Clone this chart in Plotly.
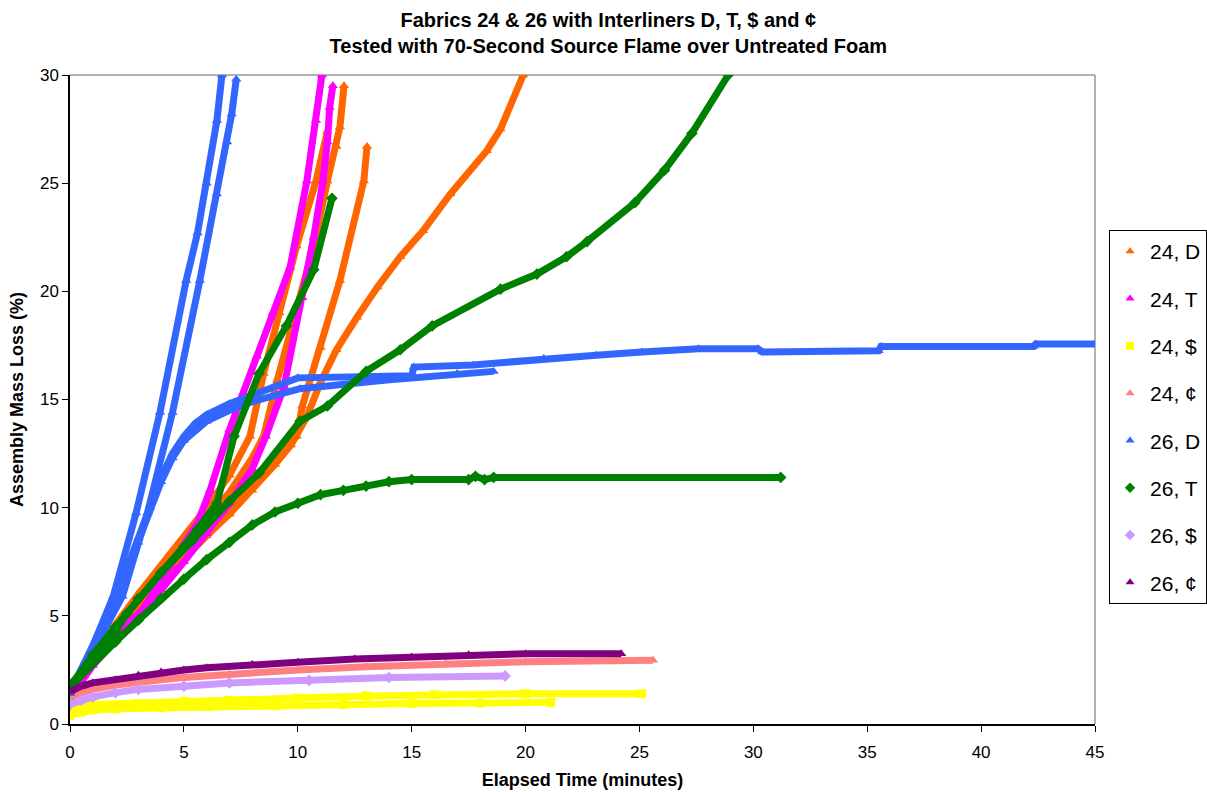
import plotly.graph_objects as go

# ---------------- data: elapsed time (min) vs assembly mass loss (%) ----------------
# Fabric 24, interliner D (four runs)
t_24D_a = [0, 1, 2, 3, 4, 5, 6, 7, 8, 9, 9.7, 10.4, 11, 11.7, 12.6, 13.5, 14.5, 15.5, 16.7, 18.3, 18.9, 19.9]
m_24D_a = [1.6, 3.0, 4.3, 5.5, 6.6, 7.7, 8.7, 9.7, 10.8, 12.0, 12.9, 14.2, 15.8, 17.3, 18.8, 20.2, 21.6, 22.8, 24.5, 26.5, 27.5, 30.0]
t_24D_b = [0, 1, 2, 3, 4, 5, 6, 7, 8, 9, 9.95, 10.2, 11, 11.85, 12.9, 13.04]
m_24D_b = [1.6, 3.0, 4.4, 5.6, 6.8, 7.9, 9.0, 10.1, 11.2, 12.2, 13.3, 14.7, 17.4, 20.5, 25.1, 26.7]
t_24D_c = [0, 1, 2, 3, 4, 5, 6, 7, 8, 8.5, 9.1, 9.8, 10.7, 11.3, 11.7, 11.85, 12.03]
m_24D_c = [1.6, 3.1, 4.5, 5.8, 7.0, 8.2, 9.4, 10.7, 12.3, 13.3, 15.9, 18.7, 22.1, 25.1, 26.7, 27.6, 29.5]
t_24D_d = [0, 1, 2, 3, 4, 5, 6, 7, 7.9, 8.5, 9.2, 9.95, 10.8, 11.3]
m_24D_d = [1.7, 3.2, 4.6, 6.0, 7.3, 8.6, 10.0, 11.5, 13.3, 16.2, 19.0, 22.1, 25.1, 27.4]

# Fabric 24, interliner T (two runs)
t_24T_a = [0, 1, 2, 3.2, 4.4, 5.6, 6.15, 7.0, 7.6, 8.2, 8.9, 9.66, 10.4, 10.8, 11.06]
m_24T_a = [1.3, 2.9, 4.1, 5.3, 7.3, 9.3, 10.8, 13.6, 15.3, 17.0, 19.0, 21.1, 25.1, 27.9, 30.0]
t_24T_b = [0, 1, 2, 3, 4, 5, 6, 7, 8, 8.6, 9.4, 10.2, 10.7, 11.1, 11.3, 11.4, 11.54]
m_24T_b = [1.2, 2.7, 3.9, 5.0, 6.2, 7.5, 8.8, 10.2, 11.8, 13.3, 15.6, 19.7, 22.5, 25.1, 26.9, 28.5, 29.5]

# Fabric 24, interliner $ (two runs)
t_24S_a = [0, 0.5, 1, 3, 5, 7, 10, 13, 16, 20, 25.1]
m_24S_a = [0.6, 0.8, 0.9, 0.95, 1.05, 1.1, 1.2, 1.3, 1.35, 1.4, 1.4]
t_24S_b = [0, 0.5, 1, 2, 4, 6, 9, 12, 15, 18, 21.1]
m_24S_b = [0.4, 0.55, 0.65, 0.7, 0.75, 0.8, 0.85, 0.9, 0.95, 0.97, 1.0]

# Fabric 24, interliner ¢
t_24C = [0, 0.5, 1, 2, 3, 4, 5, 7, 10, 13, 16.5, 20, 25.6]
m_24C = [1.25, 1.45, 1.6, 1.8, 1.95, 2.05, 2.15, 2.3, 2.5, 2.65, 2.78, 2.88, 2.95]

# Fabric 26, interliner D (four runs)
t_26D_a = [0, 1, 1.9, 2.9, 3.95, 5.1, 5.6, 6.0, 6.45, 6.67]
m_26D_a = [1.5, 3.6, 5.9, 9.75, 14.4, 20.5, 22.7, 25.0, 27.9, 30.0]
t_26D_b = [0, 1, 2.3, 3.4, 4.5, 5.7, 6.45, 6.9, 7.1, 7.3]
m_26D_b = [1.4, 3.3, 5.9, 9.75, 14.4, 20.5, 24.5, 26.9, 28.2, 29.8]
t_26D_c = [0, 0.5, 1, 1.5, 2, 2.5, 3, 3.5, 4, 4.5, 5, 5.5, 6, 7, 8, 9, 10, 15, 15.1, 17.7,
           20.8, 23.1, 25.1, 27.6, 30.2, 30.4, 35.5, 35.6, 42.3, 42.4, 45]
m_26D_c = [1.6, 2.5, 3.6, 4.7, 5.9, 7.2, 8.6, 10.0, 11.4, 12.5, 13.3, 13.9, 14.3, 14.8, 15.2, 15.6, 16.0, 16.1, 16.5, 16.6,
           16.9, 17.05, 17.2, 17.35, 17.35, 17.2, 17.25, 17.45, 17.45, 17.57, 17.57]
t_26D_d = [0, 1, 2, 3, 4, 4.5, 5, 6, 7, 8, 9, 10.1, 13.9, 17, 18.6]
m_26D_d = [1.4, 3.4, 5.7, 8.4, 11.2, 12.3, 13.1, 14.0, 14.5, 14.9, 15.2, 15.5, 15.9, 16.2, 16.3]

# Fabric 26, interliner T (three runs)
t_26T_a = [0, 1, 2, 2.5, 4, 5.4, 7, 8.3, 10.1, 11.3, 13, 14.5, 15.9, 18.9, 20.5, 21.8, 22.7, 24.8, 26.1, 27.3, 28.9]
m_26T_a = [1.8, 3.0, 4.3, 5.1, 7.0, 8.5, 10.3, 11.6, 14.0, 14.7, 16.3, 17.3, 18.4, 20.1, 20.8, 21.6, 22.3, 24.1, 25.6, 27.3, 30.0]
t_26T_b = [0, 1, 2, 3, 4, 5, 6, 7, 8, 9, 10, 11, 12, 13, 14, 15, 17.5, 17.8, 18.2, 18.6, 31.2]
m_26T_b = [1.7, 2.8, 3.8, 4.8, 5.8, 6.7, 7.6, 8.4, 9.2, 9.8, 10.2, 10.6, 10.8, 11.0, 11.2, 11.3, 11.3, 11.45, 11.3, 11.4, 11.4]
t_26T_c = [0, 1, 2, 3, 4, 5, 5.6, 6.45, 7.2, 8.3, 9.5, 10.7, 11.5]
m_26T_c = [1.7, 3.2, 4.5, 5.8, 7.0, 8.2, 9.0, 10.2, 13.3, 16.2, 18.4, 21.0, 24.3]

# Fabric 26, interliner $
t_26S = [0, 0.5, 1, 2, 3, 5, 7, 10.5, 14, 19.1]
m_26S = [0.9, 1.1, 1.25, 1.45, 1.6, 1.75, 1.9, 2.02, 2.15, 2.22]

# Fabric 26, interliner ¢
t_26C = [0, 0.5, 1, 2, 3, 4, 5, 6, 8, 10, 12.5, 15, 17.5, 20, 24.2]
m_26C = [1.5, 1.75, 1.9, 2.05, 2.25, 2.4, 2.5, 2.6, 2.75, 2.85, 3.0, 3.1, 3.2, 3.25, 3.25]

series = [
    ("24, D", "#FF6600", "triangle-up", [(t_24D_a, m_24D_a), (t_24D_b, m_24D_b), (t_24D_c, m_24D_c), (t_24D_d, m_24D_d)]),
    ("24, T", "#FF00FF", "triangle-up", [(t_24T_a, m_24T_a), (t_24T_b, m_24T_b)]),
    ("24, $", "#FFFF00", "square", [(t_24S_a, m_24S_a), (t_24S_b, m_24S_b)]),
    ("24, ¢", "#FF8080", "triangle-up", [(t_24C, m_24C)]),
    ("26, D", "#3366FF", "triangle-up", [(t_26D_a, m_26D_a), (t_26D_b, m_26D_b), (t_26D_c, m_26D_c), (t_26D_d, m_26D_d)]),
    ("26, T", "#008000", "diamond", [(t_26T_a, m_26T_a), (t_26T_b, m_26T_b), (t_26T_c, m_26T_c)]),
    ("26, $", "#CC99FF", "diamond", [(t_26S, m_26S)]),
    ("26, ¢", "#800080", "triangle-up", [(t_26C, m_26C)]),
]

FONT = "Liberation Sans, Arial, sans-serif"

fig = go.Figure()
for name, color, symbol, runs in series:
    for t, m in runs:
        fig.add_trace(go.Scatter(
            x=t, y=m, name=name, legendgroup=name, showlegend=False,
            mode="lines+markers",
            line=dict(color=color, width=7),
            marker=dict(color=color, symbol=symbol, size=9),
        ))
    # marker-only key entry for the legend
    fig.add_trace(go.Scatter(
        x=[None], y=[None], name=name, legendgroup=name, showlegend=True,
        mode="markers", marker=dict(color=color, symbol=symbol, size=8),
    ))

fig.update_layout(
    width=1207, height=792,
    paper_bgcolor="white", plot_bgcolor="white",
    margin=dict(l=70, r=112, t=75, b=68, autoexpand=False),
    font=dict(family=FONT, color="black", size=17),
    title=dict(
        text="<b>Fabrics 24 & 26 with Interliners D, T, $ and ¢<br>Tested with 70-Second Source Flame over Untreated Foam</b>",
        x=0.504, xanchor="center", y=0.966, yanchor="top",
        font=dict(family=FONT, size=20, color="black"),
    ),
    legend=dict(
        x=1.0137, xanchor="left", y=0.761, yanchor="top",
        bordercolor="black", borderwidth=1, bgcolor="white",
        font=dict(family=FONT, size=21, color="black"),
        tracegroupgap=17, itemwidth=30,
    ),
    showlegend=True,
)

fig.update_xaxes(
    range=[0, 45], dtick=5, tick0=0,
    showgrid=False, zeroline=False,
    showline=True, linecolor="black", linewidth=1.5,
    ticks="outside", ticklen=6, tickcolor="black", ticklabelstandoff=6,
    tickfont=dict(family=FONT, size=17),
    title=dict(text="<b>Elapsed Time (minutes)</b>", font=dict(family=FONT, size=18), standoff=12),
)
fig.update_yaxes(
    range=[0, 30], dtick=5, tick0=0,
    showgrid=False, zeroline=False,
    showline=True, linecolor="black", linewidth=1.5,
    ticks="outside", ticklen=6, tickcolor="black",
    tickfont=dict(family=FONT, size=17),
    title=dict(text="<b>Assembly Mass Loss (%)</b>", font=dict(family=FONT, size=18), standoff=12),
)

# light grey frame on the top and right of the plot area
fig.add_shape(type="line", xref="paper", yref="paper", x0=0, x1=1, y0=1, y1=1,
              line=dict(color="#999999", width=1.5), layer="below")
fig.add_shape(type="line", xref="paper", yref="paper", x0=1, x1=1, y0=0, y1=1,
              line=dict(color="#999999", width=1.5), layer="below")

fig.write_html("out.html")
